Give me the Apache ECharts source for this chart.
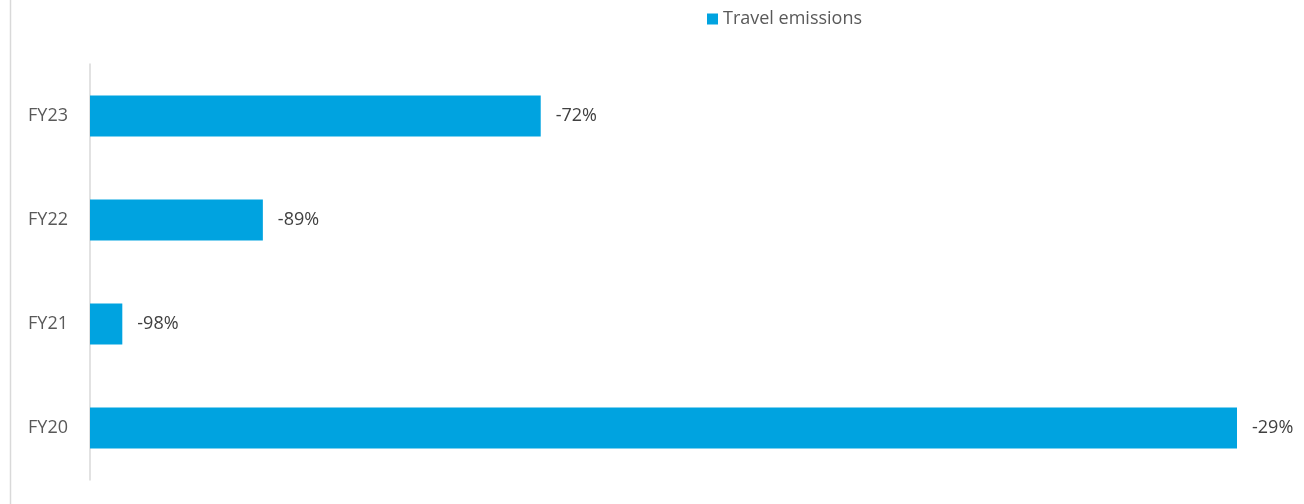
<!DOCTYPE html>
<html><head><meta charset="utf-8">
<script src="https://cdn.jsdelivr.net/npm/echarts@6/dist/echarts.min.js"></script>
<style>html,body{margin:0;padding:0;background:#fff}#c{width:1304px;height:504px}</style>
</head><body><div id="c"></div>
<script>
const categories = ['FY20', 'FY21', 'FY22', 'FY23'];
const values = [71, 2, 10.7, 27.9];
const changeLabels = ['-29%', '-98%', '-89%', '-72%'];
const seriesName = 'Travel emissions';

const chart = echarts.init(document.getElementById('c'));
chart.setOption({
  animation: false,
  textStyle: { fontFamily: 'Open Sans, Liberation Sans, sans-serif' },
  graphic: [{ type: 'line', shape: { x1: 10.5, y1: 0, x2: 10.5, y2: 504 }, style: { stroke: '#d9d9d9', lineWidth: 1.5 } }],
  legend: {
    top: 5, left: 702, itemWidth: 11, itemHeight: 11, itemGap: 5,
    icon: 'rect',
    textStyle: { color: '#595959', fontSize: 18 },
    data: [seriesName]
  },
  grid: { left: 90, right: 67, top: 64, bottom: 24 },
  xAxis: { type: 'value', min: 0, max: 71, show: false },
  yAxis: {
    type: 'category', data: categories,
    axisLine: { lineStyle: { color: '#d9d9d9', width: 1.5 } },
    axisTick: { show: false },
    axisLabel: { color: '#595959', fontSize: 18, margin: 22 }
  },
  series: [{
    name: seriesName, type: 'bar', data: values, barWidth: 41,
    itemStyle: { color: '#00A3E0' },
    label: {
      show: true, position: 'right', distance: 15, color: '#404040', fontSize: 18,
      formatter: p => changeLabels[p.dataIndex]
    }
  }]
});
</script></body></html>
